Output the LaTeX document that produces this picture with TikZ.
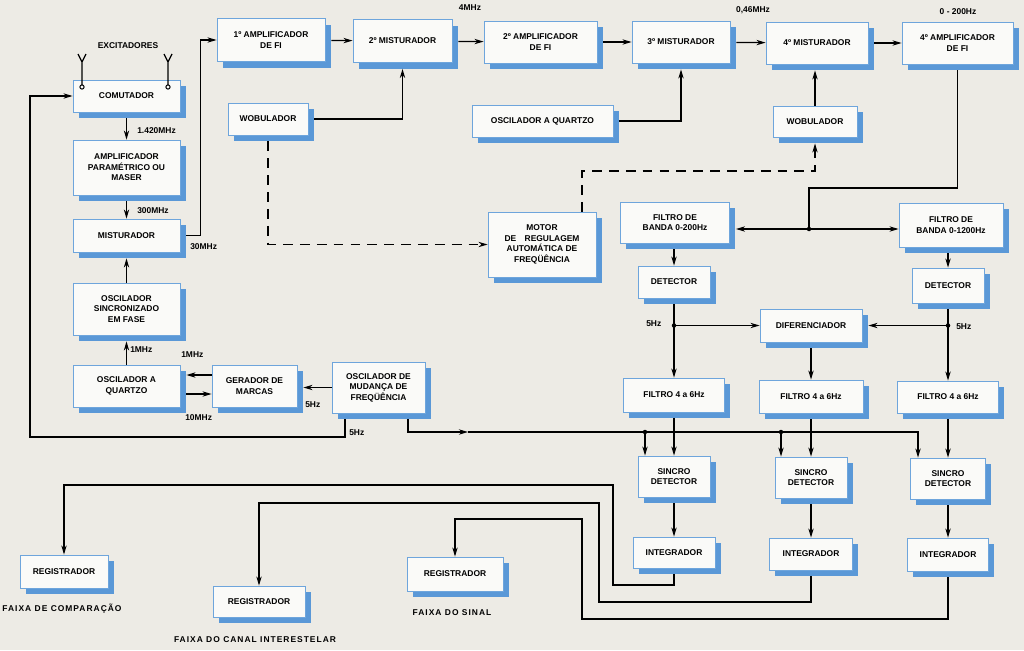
\documentclass[tikz,border=0pt]{standalone}
\usepackage{fontspec}
\setmainfont{Liberation Sans}
\usetikzlibrary{shadows,arrows.meta}

\definecolor{papel}{RGB}{237,235,229}
\definecolor{caixa}{RGB}{250,250,248}
\definecolor{borda}{RGB}{110,165,220}
\definecolor{sombra}{RGB}{90,152,215}

\tikzset{
  bloco/.style={draw=borda, fill=caixa, line width=0.6pt, align=center, inner sep=1pt,
    font=\bfseries\fontsize{6}{7.5}\selectfont,
    drop shadow={shadow xshift=1.4mm, shadow yshift=-1.5mm, fill=sombra, opacity=1}},
  tam/.style 2 args={minimum width=#1*0.25mm, minimum height=#2*0.25mm},
  rot/.style={font=\bfseries\fontsize{6}{7.5}\selectfont, inner sep=0pt},
  faixa/.style={rot, font=\bfseries\fontsize{6}{7.5}\selectfont\addfontfeatures{LetterSpace=12}},
  lig/.style={line width=0.9pt},
  seta/.style={-{Stealth[length=6.5pt,width=3.8pt]}},
  sai/.style={shorten <=1.5mm},
  che/.style={shorten >=1.5mm},
  tr/.style={dash pattern=on 7pt off 5pt}
}

\begin{document}
\begin{tikzpicture}[x=0.25mm, y=-0.25mm]
  \fill[papel] (0,0) rectangle (1024,650);
  \useasboundingbox (0,0) rectangle (1024,650);

  % Coluna da esquerda
  \node[bloco, tam={107}{32}] (com) at (126.5,96) {COMUTADOR};
  \node[bloco, tam={107}{55}] (amp) at (126.5,167.5) {AMPLIFICADOR\\PARAMÉTRICO OU\\MASER};
  \node[bloco, tam={107}{33}] (mis) at (126.5,235.5) {MISTURADOR};
  \node[bloco, tam={107}{52}] (sinc) at (126.5,309) {OSCILADOR\\SINCRONIZADO\\EM FASE};
  \node[bloco, tam={107}{42}] (oq1) at (126.5,386) {OSCILADOR A\\QUARTZO};
  \node[bloco, tam={85}{42}] (ger) at (254.5,386) {GERADOR DE\\MARCAS};
  \node[bloco, tam={93}{51}] (omf) at (378.5,387.5) {OSCILADOR DE\\MUDANÇA DE\\FREQÜÊNCIA};

  % Fila de cima
  \node[bloco, tam={108}{43}] (fi1) at (271,40) {1º AMPLIFICADOR\\DE FI};
  \node[bloco, tam={99}{43}] (mis2) at (402.5,41) {2º MISTURADOR};
  \node[bloco, tam={113}{42}] (fi2) at (540.5,42) {2º AMPLIFICADOR\\DE FI};
  \node[bloco, tam={98}{42}] (mis3) at (681,42) {3º MISTURADOR};
  \node[bloco, tam={102}{42}] (mis4) at (817,43) {4º MISTURADOR};
  \node[bloco, tam={111}{42}] (fi4) at (957.5,43) {4º AMPLIFICADOR\\DE FI};
  \node[bloco, tam={80}{32}] (wob1) at (268,119) {WOBULADOR};
  \node[bloco, tam={141}{32}] (oq2) at (542.5,121) {OSCILADOR A QUARTZO};
  \node[bloco, tam={84}{31}] (wob2) at (815,121.5) {WOBULADOR};

  % Bloco central e filtros
  \node[bloco, tam={108}{65}] (mot) at (542,244.5) {MOTOR\\DE\quad REGULAGEM\\AUTOMÁTICA DE\\FREQÜÊNCIA};
  \node[bloco, tam={109}{41}] (fb1) at (675,222.5) {FILTRO DE\\BANDA 0-200Hz};
  \node[bloco, tam={104}{44}] (fb2) at (951,225) {FILTRO DE\\BANDA 0-1200Hz};
  \node[bloco, tam={72}{32}] (det1) at (674,282) {DETECTOR};
  \node[bloco, tam={72}{35}] (det2) at (948,285.5) {DETECTOR};
  \node[bloco, tam={102}{33}] (dif) at (811,325.5) {DIFERENCIADOR};
  \node[bloco, tam={101}{34}] (f1) at (674,395) {FILTRO 4 a 6Hz};
  \node[bloco, tam={104}{33}] (f2) at (811,396.5) {FILTRO 4 a 6Hz};
  \node[bloco, tam={101}{32}] (f3) at (948,397) {FILTRO 4 a 6Hz};
  \node[bloco, tam={72}{41}] (sd1) at (674,476.5) {SINCRO\\DETECTOR};
  \node[bloco, tam={72}{41}] (sd2) at (811,477.5) {SINCRO\\DETECTOR};
  \node[bloco, tam={75}{41}] (sd3) at (948,478.5) {SINCRO\\DETECTOR};
  \node[bloco, tam={82}{31}] (in1) at (674,552.5) {INTEGRADOR};
  \node[bloco, tam={83}{32}] (in2) at (811,554) {INTEGRADOR};
  \node[bloco, tam={81}{33}] (in3) at (948,554.5) {INTEGRADOR};

  % Registradores
  \node[bloco, tam={88}{33}] (rg1) at (64,571.5) {REGISTRADOR};
  \node[bloco, tam={92}{31}] (rg2) at (259,601.5) {REGISTRADOR};
  \node[bloco, tam={96}{34}] (rg3) at (455,574) {REGISTRADOR};

  % Pontos de passagem
  \coordinate (v1) at (345,437);
  \coordinate (v2) at (30,437);
  \coordinate (b0) at (408,432);
  \coordinate (bm) at (468,432);
  \coordinate (j1) at (645,432);
  \coordinate (j2) at (781,432);
  \coordinate (b3) at (918,432);
  \coordinate (d1) at (674,325.5);
  \coordinate (d2) at (948,325.5);
  \coordinate (jt) at (809,188);
  \coordinate (jf) at (809,229);
  \coordinate (mt) at (582,171);
  \coordinate (s1) at (613,585); \coordinate (t1) at (613,485);
  \coordinate (s2) at (599,602); \coordinate (t2) at (599,503);
  \coordinate (s3) at (582,619); \coordinate (t3) at (582,519);

  % Excitadores
  \foreach \x in {82,168} {
    \draw[line width=0.7pt] (\x,87) circle (1.5pt);
    \draw[line width=0.8pt] (\x,85) -- (\x,62) -- (\x-4,54) (\x,62) -- (\x+4,54);
  }

  % Ligacoes da coluna da esquerda
  \draw[lig,seta,sai] (com) -- (amp);
  \draw[lig,seta,sai] (amp) -- (mis);
  \draw[lig,seta,che] (sinc) -- (mis);
  \draw[lig,seta,che] (oq1) -- (sinc);
  \draw[lig,seta,sai] (mis.east) -- ++(20,0) |- (fi1.west);
  \draw[lig,seta,che] ([yshift=2.75mm]ger.west) -- ([yshift=2.75mm]oq1.east);
  \draw[lig,seta,sai] ([yshift=-2mm]oq1.east) -- ([yshift=-2mm]ger.west);
  \draw[lig,seta,che] (omf.west) -- (omf.west -| ger.east);
  \draw[lig,seta,sai] (omf.south -| v1) -- (v1) -- (v2) |- (com.west); % realimentacao 5Hz

  % Cadeia de FI
  \draw[lig,seta,sai] (fi1) -- (mis2);
  \draw[lig,seta,sai] (mis2) -- (fi2);
  \draw[lig,seta,sai] (fi2) -- (mis3);
  \draw[lig,seta,sai] (mis3) -- (mis4);
  \draw[lig,seta,sai] (mis4) -- (fi4);
  \draw[lig,seta,sai,che] (wob1.east) -| (mis2.south);
  \draw[lig,seta,sai,che] (oq2.east) -| (mis3.south);
  \draw[lig,seta,che] (wob2.north) -- (wob2.north |- mis4.south);

  % Regulagem automatica (tracejado)
  \draw[lig,tr,seta,sai] (wob1.south) |- (mot.west);
  \draw[lig,tr,seta,che] (mot.north -| mt) -- (mt) -| (wob2.south);

  % Filtros de banda
  \draw[lig,sai] (fi4.south) |- (jt) -- (jf);
  \draw[lig,seta,che] (jf) -- (jf -| fb1.east);
  \draw[lig,seta] (jf) -- (jf -| fb2.west);
  \fill (jf) circle (1.6pt);
  \draw[lig,seta,sai] (det1.north |- fb1.south) -- (det1.north);
  \draw[lig,seta,sai] (det2.north |- fb2.south) -- (det2.north);
  \draw[lig,seta,sai] (det1) -- (f1);
  \draw[lig,seta,sai] (det2) -- (f3);
  \draw[lig,seta] (d1) -- (dif.west);
  \draw[lig,seta,che] (d2) -- (dif.east);
  \fill (d1) circle (1.6pt);
  \fill (d2) circle (1.6pt);
  \draw[lig,seta,sai] (dif) -- (f2);

  % Sincro detectores e integradores
  \foreach \c in {1,2,3} {
    \draw[lig,seta,sai] (f\c) -- (sd\c);
    \draw[lig,seta,sai] (sd\c) -- (in\c);
  }
  \draw[lig,seta,sai] (omf.south -| b0) |- (bm);
  \draw[lig,seta] (bm) -- (b3) -- (b3 |- sd3.north);
  \draw[lig,seta] (j1) -- (j1 |- sd1.north);
  \draw[lig,seta] (j2) -- (j2 |- sd2.north);
  \fill (j1) circle (1.6pt);
  \fill (j2) circle (1.6pt);

  % Saidas para os registradores
  \draw[lig,seta,sai] (in1.south) |- (s1) -- (t1) -| (rg1.north);
  \draw[lig,seta,sai] (in2.south) |- (s2) -- (t2) -| (rg2.north);
  \draw[lig,seta,sai] (in3.south) |- (s3) -- (t3) -| (rg3.north);

  % Rotulos
  \node[rot] (lexc) at (128,46) {EXCITADORES};
  \node[rot, anchor=west] (l1420) at (137,131) {1.420MHz};
  \node[rot, anchor=west] (l300) at (137,211) {300MHz};
  \node[rot, anchor=west] (l30) at (190,247) {30MHz};
  \node[rot, anchor=west] (l1a) at (130,350) {1MHz};
  \node[rot, anchor=west] (l1b) at (181,355) {1MHz};
  \node[rot, anchor=west] (l10) at (185,418) {10MHz};
  \node[rot, anchor=west] (l5a) at (305,405) {5Hz};
  \node[rot, anchor=west] (l5b) at (349,433) {5Hz};
  \node[rot] (l4) at (470,8) {4MHz};
  \node[rot] (l046) at (753,10) {0,46MHz};
  \node[rot] (l0200) at (958,12) {0 - 200Hz};
  \node[rot, anchor=west] (l5c) at (646,324) {5Hz};
  \node[rot, anchor=west] (l5d) at (956,327) {5Hz};
  \node[faixa] (lf1) at (62,609) {FAIXA DE COMPARAÇÃO};
  \node[faixa] (lf2) at (255,640) {FAIXA DO CANAL INTERESTELAR};
  \node[faixa] (lf3) at (452,613) {FAIXA DO SINAL};
\end{tikzpicture}
\end{document}
